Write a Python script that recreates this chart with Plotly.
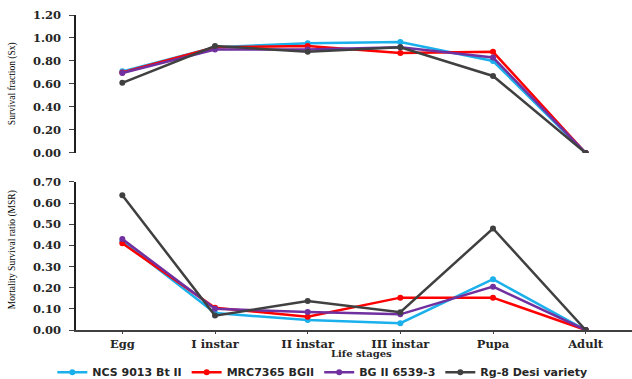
import plotly.graph_objects as go
from plotly.subplots import make_subplots

stages = ["Egg", "I instar", "II instar", "III instar", "Pupa", "Adult"]
series_names = ["NCS 9013 Bt II", "MRC7365 BGII", "BG II 6539-3", "Rg-8 Desi variety"]
colors = ["#1AB0EC", "#FF0000", "#7030A0", "#404040"]

survival_ncs = [0.71, 0.92, 0.955, 0.965, 0.80, 0.0]
survival_mrc = [0.70, 0.92, 0.93, 0.87, 0.88, 0.0]
survival_bg = [0.695, 0.90, 0.90, 0.92, 0.83, 0.0]
survival_rg = [0.61, 0.93, 0.88, 0.92, 0.67, 0.0]

msr_ncs = [0.42, 0.08, 0.047, 0.032, 0.24, 0.0]
msr_mrc = [0.41, 0.105, 0.063, 0.153, 0.153, 0.0]
msr_bg = [0.43, 0.10, 0.085, 0.074, 0.205, 0.0]
msr_rg = [0.637, 0.068, 0.137, 0.084, 0.48, 0.0]

top_vals = [survival_ncs, survival_mrc, survival_bg, survival_rg]
bot_vals = [msr_ncs, msr_mrc, msr_bg, msr_rg]

top_ticks = [0.0, 0.2, 0.4, 0.6, 0.8, 1.0, 1.2]
bot_ticks = [0.0, 0.1, 0.2, 0.3, 0.4, 0.5, 0.6, 0.7]

fig = make_subplots(rows=2, cols=1)

for i, name in enumerate(series_names):
    fig.add_trace(go.Scatter(x=stages, y=top_vals[i], mode="lines+markers", name=name,
                             line=dict(color=colors[i], width=2.5),
                             marker=dict(color=colors[i], size=6), showlegend=False),
                  row=1, col=1)
for i, name in enumerate(series_names):
    fig.add_trace(go.Scatter(x=stages, y=bot_vals[i], mode="lines+markers", name=name,
                             line=dict(color=colors[i], width=2.5),
                             marker=dict(color=colors[i], size=6), showlegend=True),
                  row=2, col=1)

tickfont = dict(family="DejaVu Serif", size=11.5, color="#262626", weight="bold")

fig.update_xaxes(type="category", range=[-0.5, 5.5], showgrid=False, zeroline=False)
fig.update_layout(
    width=632, height=379,
    margin=dict(l=76, r=0, t=15, b=49),
    paper_bgcolor="white", plot_bgcolor="white",
    xaxis=dict(domain=[0, 1], anchor="y", showline=False, showticklabels=False, ticks=""),
    xaxis2=dict(domain=[0, 1], anchor="y2", showline=True, linecolor="#404040", linewidth=1.5,
                ticks="outside", ticklen=2, tickcolor="#404040", tickfont=tickfont,
                tickson="labels"),
    yaxis=dict(domain=[0.562, 1], range=[0, 1.2], tickvals=top_ticks, tickformat=".2f",
               showline=True, linecolor="#202020", linewidth=1.5, ticks="outside", ticklen=5,
               tickcolor="#404040", showgrid=False, zeroline=False, tickfont=tickfont,
               ticklabelstandoff=6),
    yaxis2=dict(domain=[0, 0.47], range=[0, 0.7], tickvals=bot_ticks, tickformat=".2f",
                showline=True, linecolor="#202020", linewidth=1.5, ticks="outside", ticklen=5,
                tickcolor="#404040", showgrid=False, zeroline=False, tickfont=tickfont,
                ticklabelstandoff=6),
    legend=dict(orientation="h", xref="container", x=0.51, xanchor="center",
                yref="container", y=0.018, yanchor="middle",
                font=dict(family="DejaVu Sans", size=11, color="#262626", weight="bold")),
    annotations=[
        dict(text="Survival fraction (Sx)", xref="paper", yref="paper", x=-0.113, y=0.781,
             textangle=-90, showarrow=False, xanchor="center", yanchor="middle",
             font=dict(family="Liberation Serif", size=9.5, color="#000000")),
        dict(text="Mortality Survival ratio (MSR)", xref="paper", yref="paper", x=-0.113, y=0.254,
             textangle=-90, showarrow=False, xanchor="center", yanchor="middle",
             font=dict(family="Liberation Serif", size=9.5, color="#000000")),
        dict(text="Life stages", xref="paper", yref="paper", x=0.514, y=-0.075,
             showarrow=False, xanchor="center", yanchor="middle",
             font=dict(family="DejaVu Serif", size=10, color="#262626", weight="bold")),
    ],
)

fig.write_html("out.html", config={"displayModeBar": False},
               post_script="document.body.style.margin='0px';")
